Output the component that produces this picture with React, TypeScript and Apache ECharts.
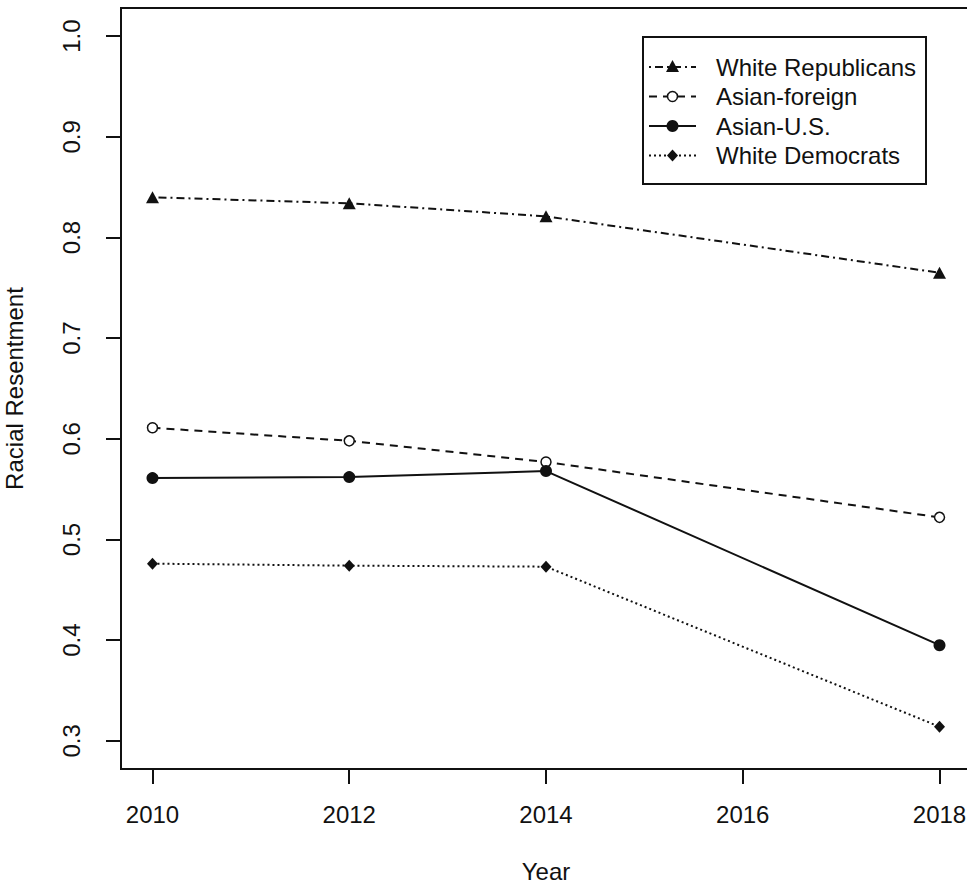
import React, { useEffect, useRef } from "react";
import * as echarts from "echarts";

// Survey years with observations
const years = [2010, 2012, 2014, 2018];

// Mean racial resentment per group
const whiteRepublicans = [0.84, 0.834, 0.821, 0.765];
const asianForeign = [0.611, 0.598, 0.577, 0.522];
const asianUS = [0.561, 0.562, 0.568, 0.395];
const whiteDemocrats = [0.476, 0.474, 0.473, 0.314];

// Tick labels
const xTicks = [2010, 2012, 2014, 2016, 2018];
const yTicks = [0.3, 0.4, 0.5, 0.6, 0.7, 0.8, 0.9, 1.0];

const seriesNames = ["White Republicans", "Asian-foreign", "Asian-U.S.", "White Democrats"];

const FONT = "'Liberation Sans', Arial, Helvetica, sans-serif";
const INK = "#111";
const FS = 24;

type Style = {
  dash: number[] | "solid";
  symbol: string;
  size: number | number[];
  fill: string;
  border: number;
};

const styles: Style[] = [
  { dash: [2, 4, 8, 4], symbol: "triangle", size: [13, 12], fill: INK, border: 0 },
  { dash: [8, 6], symbol: "circle", size: 10, fill: "#fff", border: 1.5 },
  { dash: "solid", symbol: "circle", size: 12, fill: INK, border: 0 },
  { dash: [2, 3], symbol: "diamond", size: [11, 12], fill: INK, border: 0 },
];

const values = [whiteRepublicans, asianForeign, asianUS, whiteDemocrats];

function legendMarker(i: number, cx: number, cy: number): any {
  const s = styles[i];
  if (s.symbol === "triangle") {
    return {
      type: "polygon",
      shape: { points: [[cx, cy - 7], [cx - 6.5, cy + 5], [cx + 6.5, cy + 5]] },
      style: { fill: INK },
    };
  }
  if (s.symbol === "diamond") {
    return {
      type: "polygon",
      shape: { points: [[cx, cy - 6], [cx + 5.5, cy], [cx, cy + 6], [cx - 5.5, cy]] },
      style: { fill: INK },
    };
  }
  return {
    type: "circle",
    shape: { cx, cy, r: s.fill === "#fff" ? 5 : 6 },
    style: { fill: s.fill, stroke: INK, lineWidth: s.border },
  };
}

export default function App() {
  const ref = useRef<HTMLDivElement>(null);

  useEffect(() => {
    if (!ref.current) return;
    const chart = echarts.init(ref.current, undefined, { renderer: "svg" });

    const legendRows = [67, 96.5, 126, 155.5];
    const legendChildren: any[] = [
      {
        type: "rect",
        shape: { x: 643, y: 37, width: 283, height: 147 },
        style: { fill: "#fff", stroke: INK, lineWidth: 2 },
      },
    ];
    seriesNames.forEach((name, i) => {
      const y = legendRows[i];
      const s = styles[i];
      legendChildren.push({
        type: "line",
        shape: { x1: 649, y1: y, x2: 696, y2: y },
        style: {
          stroke: INK,
          lineWidth: 2,
          lineDash: s.dash === "solid" ? null : s.dash,
        },
      });
      legendChildren.push(legendMarker(i, 672.5, y));
      legendChildren.push({
        type: "text",
        x: 716,
        y,
        style: {
          text: name,
          font: `${FS}px ${FONT}`,
          fill: INK,
          textVerticalAlign: "middle",
          verticalAlign: "middle",
        },
      });
    });

    chart.setOption({
      animation: false,
      backgroundColor: "#fff",
      textStyle: { fontFamily: FONT },
      grid: {
        left: 121,
        top: 8,
        right: -4,
        bottom: 120,
        show: true,
        borderColor: INK,
        borderWidth: 2,
        backgroundColor: "transparent",
        containLabel: false,
        outerBoundsMode: "none",
      },
      xAxis: {
        type: "value",
        min: 2009.68,
        max: 2018.32,
        name: "Year",
        nameLocation: "middle",
        nameGap: 90,
        nameTextStyle: { fontSize: FS, color: INK, fontFamily: FONT },
        axisLine: { show: true, onZero: false, lineStyle: { color: INK, width: 2 } },
        axisTick: {
          show: true,
          length: 15,
          customValues: xTicks,
          lineStyle: { color: INK, width: 2 },
        },
        axisLabel: {
          customValues: xTicks,
          margin: 33,
          fontSize: FS,
          color: INK,
          fontFamily: FONT,
          formatter: (v: number) => String(Math.round(v)),
        },
        splitLine: { show: false },
      },
      yAxis: {
        type: "value",
        min: 0.272,
        max: 1.028,
        name: "Racial Resentment",
        nameLocation: "middle",
        nameRotate: 90,
        nameGap: 95,
        nameTextStyle: { fontSize: FS, color: INK, fontFamily: FONT },
        axisLine: { show: true, onZero: false, lineStyle: { color: INK, width: 2 } },
        axisTick: {
          show: true,
          length: 15,
          customValues: yTicks,
          lineStyle: { color: INK, width: 2 },
        },
        axisLabel: {
          customValues: yTicks,
          rotate: 90,
          margin: 38,
          fontSize: FS,
          color: INK,
          fontFamily: FONT,
          formatter: (v: number) => v.toFixed(1),
        },
        splitLine: { show: false },
      },
      series: seriesNames.map((name, i) => {
        const s = styles[i];
        return {
          name,
          type: "line",
          data: years.map((yr, j) => [yr, values[i][j]]),
          symbol: s.symbol,
          symbolSize: s.size,
          showSymbol: true,
          lineStyle: { color: INK, width: 2, type: s.dash },
          itemStyle: {
            color: s.fill,
            borderColor: INK,
            borderWidth: s.border,
          },
          emphasis: { disabled: true },
          z: 2 + i,
        };
      }),
      graphic: [{ type: "group", children: legendChildren }],
    });

    return () => chart.dispose();
  }, []);

  return (
    <div
      ref={ref}
      style={{ position: "absolute", left: 0, top: 0, width: 967, height: 889 }}
    />
  );
}
